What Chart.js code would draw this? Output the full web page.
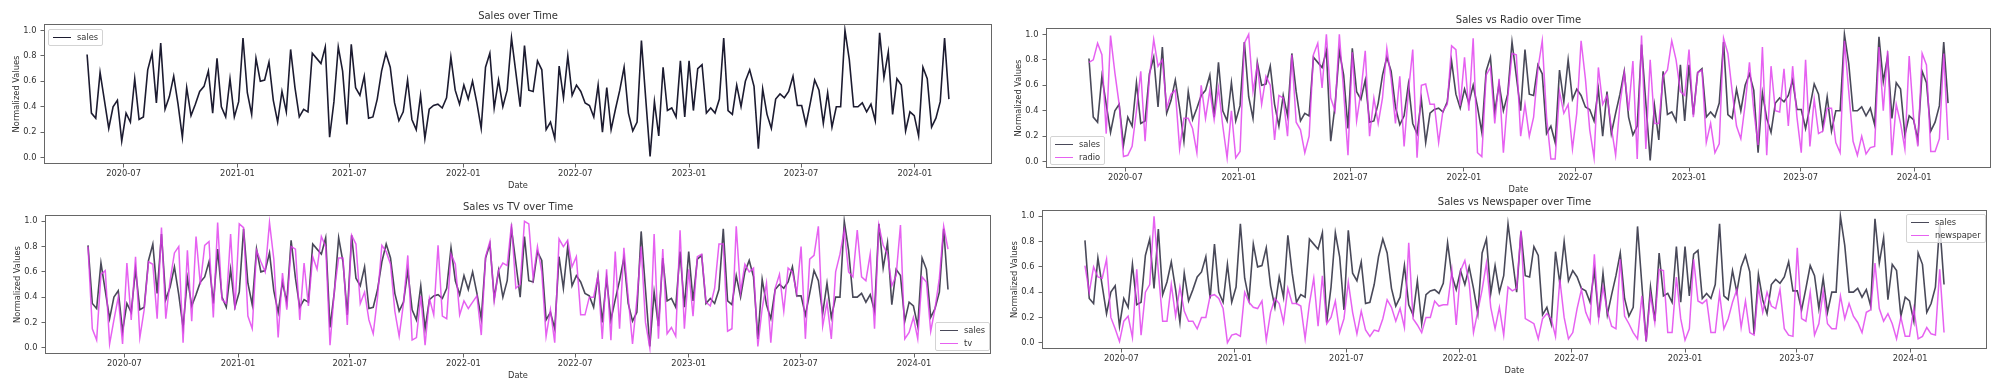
<!DOCTYPE html>
<html>
<head>
<meta charset="utf-8">
<title>Sales vs Media over Time</title>
<script src="https://cdn.jsdelivr.net/npm/chart.js"></script>
<style>
    body {
        margin: 0;
        width: 2000px;
        height: 384px;
        background: #fff;
        position: relative;
        overflow: hidden;
        font-family: 'DejaVu Sans', sans-serif;
    }
    canvas { position: absolute; }
    .legend {
        position: absolute;
        background: rgba(255, 255, 255, 0.8);
        border: 1px solid #d3d3d3;
        border-radius: 2px;
        padding: 1px 4px 1px 4px;
        font-size: 8.3px;
        line-height: 12.5px;
        color: #333;
        white-space: nowrap;
    }
    .legend .swatch {
        display: inline-block;
        width: 18px;
        height: 0;
        border-top: 1.6px solid;
        vertical-align: middle;
        margin-right: 6px;
    }
</style>
</head>
<body>

<script>
// Weekly data, normalized 0..1
const startDate = '2020-05-03';

const sales = [
    0.81, 0.35, 0.31, 0.67, 0.45, 0.23, 0.40, 0.45, 0.13, 0.35,
    0.28, 0.62, 0.30, 0.32, 0.69, 0.82, 0.43, 0.90, 0.38, 0.48,
    0.64, 0.42, 0.16, 0.55, 0.33, 0.42, 0.52, 0.56, 0.68, 0.35,
    0.78, 0.40, 0.32, 0.62, 0.32, 0.44, 0.94, 0.51, 0.34, 0.78,
    0.60, 0.61, 0.75, 0.45, 0.28, 0.52, 0.36, 0.85, 0.55, 0.32,
    0.38, 0.36, 0.82, 0.78, 0.74, 0.87, 0.16, 0.44, 0.87, 0.68,
    0.26, 0.89, 0.55, 0.49, 0.64, 0.31, 0.32, 0.46, 0.68, 0.82,
    0.71, 0.43, 0.29, 0.36, 0.61, 0.30, 0.22, 0.49, 0.15, 0.38,
    0.41, 0.42, 0.39, 0.47, 0.79, 0.53, 0.42, 0.57, 0.46, 0.60,
    0.43, 0.23, 0.71, 0.82, 0.39, 0.61, 0.40, 0.53, 0.94, 0.67,
    0.40, 0.88, 0.53, 0.52, 0.76, 0.69, 0.22, 0.28, 0.15, 0.72,
    0.47, 0.80, 0.49, 0.57, 0.52, 0.43, 0.41, 0.32, 0.57, 0.20,
    0.55, 0.22, 0.38, 0.53, 0.71, 0.35, 0.21, 0.28, 0.92, 0.46,
    0.01, 0.44, 0.17, 0.71, 0.37, 0.39, 0.32, 0.76, 0.32, 0.76,
    0.37, 0.70, 0.73, 0.35, 0.39, 0.35, 0.46, 0.94, 0.37, 0.34,
    0.57, 0.40, 0.60, 0.69, 0.56, 0.07, 0.54, 0.34, 0.23, 0.46,
    0.50, 0.47, 0.52, 0.64, 0.41, 0.41, 0.26, 0.43, 0.61, 0.53,
    0.27, 0.51, 0.24, 0.40, 0.40, 1.00, 0.77, 0.40, 0.40, 0.43,
    0.36, 0.42, 0.29, 0.98, 0.63, 0.83, 0.34, 0.62, 0.57, 0.21,
    0.36, 0.33, 0.17, 0.71, 0.62, 0.24, 0.31, 0.44, 0.94, 0.46
];

const radio = [
    0.78, 0.80, 0.93, 0.84, 0.22, 0.99, 0.70, 0.45, 0.04, 0.05,
    0.12, 0.40, 0.71, 0.16, 0.66, 0.96, 0.75, 0.80, 0.42, 0.53,
    0.56, 0.10, 0.34, 0.34, 0.26, 0.07, 0.60, 0.34, 0.56, 0.33,
    0.58, 0.28, 0.03, 0.40, 0.03, 0.08, 0.93, 1.00, 0.55, 0.76,
    0.45, 0.67, 0.60, 0.17, 0.52, 0.50, 0.20, 0.84, 0.31, 0.25,
    0.07, 0.20, 0.84, 0.93, 0.58, 1.00, 0.50, 0.40, 1.00, 0.55,
    0.05, 0.86, 0.32, 0.55, 0.87, 0.20, 0.50, 0.30, 0.50, 0.89,
    0.65, 0.30, 0.67, 0.12, 0.55, 0.88, 0.03, 0.60, 0.61, 0.45,
    0.45, 0.15, 0.40, 0.45, 0.91, 0.88, 0.44, 0.82, 0.40, 0.97,
    0.07, 0.04, 0.68, 0.74, 0.30, 0.65, 0.07, 0.50, 0.85, 0.84,
    0.20, 0.45, 0.20, 0.35, 0.73, 0.95, 0.35, 0.02, 0.02, 0.55,
    0.38, 0.45, 0.10, 0.38, 0.95, 0.65, 0.25, 0.03, 0.74, 0.45,
    0.52, 0.27, 0.05, 0.45, 0.70, 0.40, 0.79, 0.02, 0.99, 0.10,
    0.80, 0.30, 0.30, 0.67, 0.72, 0.95, 0.80, 0.55, 0.52, 0.88,
    0.35, 0.70, 0.72, 0.15, 0.30, 0.07, 0.14, 0.97, 0.85, 0.55,
    0.28, 0.18, 0.45, 0.78, 0.40, 0.13, 0.90, 0.05, 0.75, 0.40,
    0.39, 0.73, 0.28, 0.75, 0.35, 0.07, 0.80, 0.12, 0.49, 0.22,
    0.24, 0.42, 0.42, 0.15, 0.07, 0.95, 0.55, 0.16, 0.05, 0.20,
    0.06, 0.11, 0.12, 0.90, 0.40, 0.87, 0.05, 0.45, 0.30, 0.10,
    0.83, 0.35, 0.12, 0.85, 0.76, 0.08, 0.08, 0.18, 0.85, 0.17
];

const tv = [
    0.80, 0.15, 0.06, 0.58, 0.61, 0.03, 0.22, 0.40, 0.03, 0.67,
    0.22, 0.72, 0.08, 0.30, 0.68, 0.66, 0.23, 0.95, 0.23, 0.53,
    0.75, 0.80, 0.04, 0.77, 0.21, 0.88, 0.50, 0.81, 0.84, 0.24,
    0.99, 0.38, 0.35, 0.90, 0.30, 0.98, 0.95, 0.25, 0.15, 0.77,
    0.68, 0.60, 0.99, 0.70, 0.08, 0.59, 0.30, 0.80, 0.78, 0.22,
    0.67, 0.33, 0.72, 0.62, 0.88, 0.80, 0.02, 0.45, 0.71, 0.71,
    0.18, 0.89, 0.82, 0.35, 0.44, 0.22, 0.11, 0.40, 0.81, 0.76,
    0.66, 0.29, 0.09, 0.35, 0.73, 0.06, 0.08, 0.41, 0.02, 0.39,
    0.26, 0.81, 0.25, 0.23, 0.74, 0.66, 0.26, 0.37, 0.31, 0.36,
    0.41, 0.10, 0.72, 0.84, 0.37, 0.61, 0.67, 0.65, 0.98, 0.47,
    0.50, 1.00, 0.98, 0.55, 0.80, 0.60, 0.09, 0.30, 0.04, 0.86,
    0.80, 0.85, 0.64, 0.72, 0.26, 0.26, 0.40, 0.40, 0.57, 0.07,
    0.62, 0.06, 0.76, 0.15, 0.79, 0.40, 0.03, 0.38, 0.80, 0.20,
    0.00, 0.90, 0.07, 0.78, 0.11, 0.16, 0.09, 0.93, 0.15, 0.62,
    0.25, 0.72, 0.74, 0.36, 0.33, 0.47, 0.82, 0.82, 0.13, 0.15,
    0.96, 0.44, 0.66, 0.60, 0.63, 0.01, 0.31, 0.51, 0.04, 0.47,
    0.58, 0.29, 0.63, 0.60, 0.43, 0.80, 0.07, 0.70, 0.73, 0.96,
    0.17, 0.36, 0.07, 0.60, 0.74, 0.93, 0.60, 0.56, 0.93, 0.56,
    0.53, 0.74, 0.15, 0.97, 0.81, 0.74, 0.49, 0.57, 0.97, 0.07,
    0.12, 0.24, 0.07, 0.56, 0.52, 0.13, 0.31, 0.55, 0.96, 0.78
];

const newspaper = [
    0.61, 0.40, 0.60, 0.52, 0.51, 0.66, 0.20, 0.11, 0.01, 0.17,
    0.21, 0.04, 0.58, 0.06, 0.40, 0.46, 1.00, 0.56, 0.17, 0.17,
    0.46, 0.21, 0.44, 0.25, 0.17, 0.17, 0.11, 0.20, 0.20, 0.37,
    0.38, 0.35, 0.27, 0.00, 0.06, 0.07, 0.05, 0.40, 0.32, 0.28,
    0.27, 0.33, 0.02, 0.24, 0.35, 0.31, 0.16, 0.43, 0.31, 0.31,
    0.29, 0.03, 0.31, 0.51, 0.13, 0.53, 0.15, 0.20, 0.33, 0.08,
    0.19, 0.48, 0.24, 0.07, 0.25, 0.10, 0.05, 0.10, 0.09, 0.19,
    0.34, 0.28, 0.17, 0.27, 0.12, 0.79, 0.19, 0.14, 0.08, 0.20,
    0.20, 0.33, 0.29, 0.30, 0.30, 0.57, 0.14, 0.57, 0.65, 0.47,
    0.08, 0.25, 0.42, 0.63, 0.28, 0.11, 0.28, 0.06, 0.44, 0.41,
    0.43, 0.89, 0.19, 0.17, 0.15, 0.03, 0.19, 0.23, 0.19, 0.05,
    0.50, 0.20, 0.03, 0.08, 0.27, 0.42, 0.24, 0.16, 0.70, 0.19,
    0.44, 0.25, 0.13, 0.11, 0.66, 0.21, 0.15, 0.08, 0.03, 0.37,
    0.01, 0.38, 0.16, 0.58, 0.57, 0.08, 0.08, 0.52, 0.19, 0.02,
    0.11, 0.66, 0.33, 0.31, 0.34, 0.08, 0.08, 0.39, 0.11, 0.19,
    0.32, 0.42, 0.12, 0.33, 0.08, 0.06, 0.44, 0.24, 0.40, 0.29,
    0.27, 0.42, 0.11, 0.06, 0.05, 0.75, 0.19, 0.17, 0.40, 0.06,
    0.15, 0.41, 0.15, 0.11, 0.11, 0.37, 0.19, 0.31, 0.21, 0.16,
    0.08, 0.24, 0.26, 0.63, 0.27, 0.17, 0.23, 0.15, 0.03, 0.20,
    0.05, 0.05, 0.27, 0.03, 0.05, 0.12, 0.07, 0.06, 0.58, 0.08
];

// Axis ticks
const xTickLabels = ['2020-07', '2021-01', '2021-07', '2022-01', '2022-07', '2023-01', '2023-07', '2024-01'];
const yTickValues = [0.0, 0.2, 0.4, 0.6, 0.8, 1.0];

// Colors
const SALES_COLOR = '#1c1b30';
const SALES_COLOR_SOFT = 'rgba(28, 27, 48, 0.8)';
const MEDIA_COLOR = 'rgba(224, 58, 238, 0.8)';

// Panels (axes boxes in page pixels)
const panels = [
    { title: 'Sales over Time', media: null, mediaLabel: null,
      box: { left: 44, top: 24, right: 992, bottom: 164 },
      legend: { left: 48, top: 29 } },
    { title: 'Sales vs Radio over Time', media: radio, mediaLabel: 'radio',
      box: { left: 1046, top: 28, right: 1991, bottom: 168 },
      legend: { left: 1050, top: 136 } },
    { title: 'Sales vs TV over Time', media: tv, mediaLabel: 'tv',
      box: { left: 45, top: 215, right: 991, bottom: 354 },
      legend: { left: 935, top: 322 } },
    { title: 'Sales vs Newspaper over Time', media: newspaper, mediaLabel: 'newspaper',
      box: { left: 1042, top: 210, right: 1987, bottom: 349 },
      legend: { left: 1906, top: 214 } }
];

const WEEK_MS = 7 * 24 * 3600 * 1000;
const t0 = Date.parse(startDate + 'T00:00:00Z');
const dates = sales.map((_, i) => t0 + i * WEEK_MS);
const xTickValues = xTickLabels.map(s => Date.parse(s + '-01T00:00:00Z'));

Chart.defaults.font.family = "'DejaVu Sans', sans-serif";
Chart.defaults.color = '#333';

// Full frame round the plot area
const framePlugin = {
    id: 'frame',
    afterDraw(chart) {
        const { ctx, chartArea: a } = chart;
        ctx.save();
        ctx.strokeStyle = '#666';
        ctx.lineWidth = 1;
        ctx.strokeRect(Math.round(a.left) + 0.5, Math.round(a.top) + 0.5,
            Math.round(a.right - a.left) - 1, Math.round(a.bottom - a.top) - 1);
        ctx.restore();
    }
};

function toPoints(values) {
    return values.map((v, i) => ({ x: dates[i], y: v }));
}

function buildPanel(p) {
    const Y_AXIS_W = 34, TITLE_H = 18, X_AXIS_H = 28, RIGHT_PAD = 4;
    const canvas = document.createElement('canvas');
    canvas.width = Y_AXIS_W + (p.box.right - p.box.left) + RIGHT_PAD;
    canvas.height = TITLE_H + (p.box.bottom - p.box.top) + X_AXIS_H;
    canvas.style.left = (p.box.left - Y_AXIS_W) + 'px';
    canvas.style.top = (p.box.top - TITLE_H) + 'px';
    document.body.appendChild(canvas);

    const span = dates[dates.length - 1] - dates[0];
    const datasets = [{
        label: 'sales',
        data: toPoints(sales),
        borderColor: p.media ? SALES_COLOR_SOFT : SALES_COLOR,
        borderWidth: 1.6,
        pointRadius: 0,
        tension: 0,
        order: 1
    }];
    if (p.media) {
        datasets.push({
            label: p.mediaLabel,
            data: toPoints(p.media),
            borderColor: MEDIA_COLOR,
            borderWidth: 1.5,
            pointRadius: 0,
            tension: 0,
            order: 0
        });
    }

    const tickGrid = { drawOnChartArea: false, drawTicks: true, tickLength: 3.5, color: '#666' };

    new Chart(canvas, {
        type: 'line',
        data: { datasets },
        plugins: [framePlugin],
        options: {
            responsive: false,
            animation: false,
            events: [],
            layout: { padding: { left: 0, top: 0, right: RIGHT_PAD, bottom: 0 } },
            plugins: {
                legend: { display: false },
                tooltip: { enabled: false },
                title: {
                    display: true,
                    text: p.title,
                    fullSize: false,
                    color: '#333',
                    font: { size: 10, weight: 'normal' },
                    padding: { top: 4, bottom: 2 }
                }
            },
            scales: {
                x: {
                    type: 'linear',
                    bounds: 'data',
                    min: dates[0] - 0.05 * span,
                    max: dates[dates.length - 1] + 0.05 * span,
                    afterBuildTicks: s => { s.ticks = xTickValues.map(v => ({ value: v })); },
                    afterFit: s => { s.height = X_AXIS_H; },
                    border: { display: false },
                    grid: tickGrid,
                    ticks: {
                        autoSkip: false, maxRotation: 0, minRotation: 0, padding: 1.5,
                        font: { size: 8.3 }, color: '#333',
                        callback: v => xTickLabels[xTickValues.indexOf(v)]
                    },
                    title: { display: true, text: 'Date', color: '#333', font: { size: 8.3 }, padding: { top: 0, bottom: 1.5 } }
                },
                y: {
                    bounds: 'data',
                    min: -0.05,
                    max: 1.05,
                    afterBuildTicks: s => { s.ticks = yTickValues.map(v => ({ value: v })); },
                    afterFit: s => { s.width = Y_AXIS_W; },
                    border: { display: false },
                    grid: tickGrid,
                    ticks: {
                        padding: 4, font: { size: 8.3 }, color: '#333',
                        callback: v => Number(v).toFixed(1)
                    },
                    title: { display: true, text: 'Normalized Values', color: '#333', font: { size: 8.3 }, padding: { top: 2, bottom: 0 } }
                }
            }
        }
    });

    // Legend box
    const legend = document.createElement('div');
    legend.className = 'legend';
    legend.style.left = p.legend.left + 'px';
    legend.style.top = p.legend.top + 'px';
    datasets.forEach(ds => {
        const row = document.createElement('div');
        row.innerHTML = `<span class="swatch" style="border-color:${ds.borderColor}"></span>${ds.label}`;
        legend.appendChild(row);
    });
    document.body.appendChild(legend);
}

panels.forEach(buildPanel);
</script>
</body>
</html>
